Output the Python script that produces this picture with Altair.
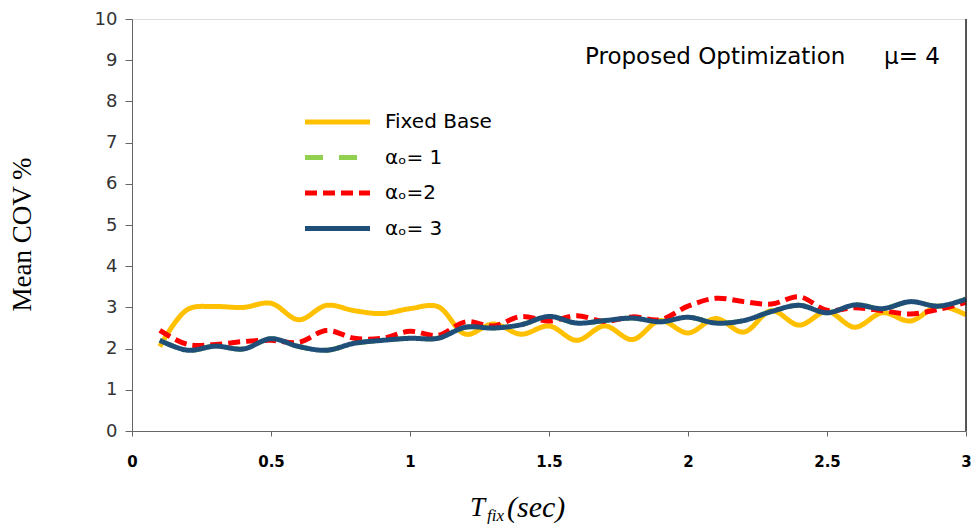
import altair as alt
import pandas as pd

t_fix = [0.1, 0.2, 0.3, 0.4, 0.5, 0.6, 0.7, 0.8, 0.9, 1.0,
         1.1, 1.2, 1.3, 1.4, 1.5, 1.6, 1.7, 1.8, 1.9, 2.0,
         2.1, 2.2, 2.3, 2.4, 2.5, 2.6, 2.7, 2.8, 2.9, 3.0]

fixed_base = [2.05, 2.95, 3.02, 3.00, 3.10, 2.70, 3.05, 2.92, 2.85, 2.97,
              3.02, 2.35, 2.60, 2.35, 2.55, 2.20, 2.55, 2.22, 2.68, 2.38,
              2.73, 2.40, 2.92, 2.57, 2.90, 2.52, 2.87, 2.67, 3.03, 2.82]

alpha1 = [2.20, 1.96, 2.06, 1.99, 2.24, 2.05, 1.96, 2.13, 2.20, 2.25,
          2.25, 2.52, 2.50, 2.58, 2.78, 2.62, 2.68, 2.74, 2.65, 2.76,
          2.62, 2.68, 2.90, 3.05, 2.87, 3.06, 2.97, 3.14, 3.03, 3.20]

alpha2 = [2.44, 2.10, 2.10, 2.17, 2.20, 2.15, 2.44, 2.25, 2.25, 2.42,
          2.32, 2.65, 2.55, 2.78, 2.67, 2.80, 2.66, 2.77, 2.70, 3.03,
          3.22, 3.14, 3.08, 3.26, 2.93, 2.99, 2.92, 2.84, 2.95, 3.12]

alpha3 = [2.20, 1.96, 2.06, 1.99, 2.24, 2.05, 1.96, 2.13, 2.20, 2.25,
          2.25, 2.52, 2.50, 2.58, 2.78, 2.62, 2.68, 2.74, 2.65, 2.76,
          2.62, 2.68, 2.90, 3.05, 2.87, 3.06, 2.97, 3.14, 3.03, 3.20]

series_names = ["Fixed Base", "\u03b1\u2092= 1", "\u03b1\u2092=2", "\u03b1\u2092= 3"]
legend_labels = [" Fixed Base", "\u03b1\u2092= 1", "\u03b1\u2092=2", "\u03b1\u2092= 3"]
series_values = [fixed_base, alpha1, alpha2, alpha3]
colors = ["#FFC000", "#92D050", "#FF0000", "#1F4E79"]
dashes = [[1, 0], [18, 16], [12, 6], [1, 0]]

x_ticks = [0, 0.5, 1, 1.5, 2, 2.5, 3]
y_ticks = [0, 1, 2, 3, 4, 5, 6, 7, 8, 9, 10]

rows = []
for k, (name, vals) in enumerate(zip(series_names, series_values)):
    for t, v in zip(t_fix, vals):
        rows.append({"series": name, "order": k, "T": t, "COV": v})
df = pd.DataFrame(rows)

leg_df = pd.DataFrame({"series": series_names, "label": legend_labels,
                       "idx": list(range(len(series_names)))})

W, H = 834, 412
SANS = "DejaVu Sans"
SERIF = "Liberation Serif"

color_scale = alt.Scale(domain=series_names, range=colors)
dash_scale = alt.Scale(domain=series_names, range=dashes)

lines = alt.Chart(df).mark_line(strokeWidth=5, interpolate="catmull-rom").encode(
    x=alt.X("T:Q",
            scale=alt.Scale(domain=[0, 3], nice=False, zero=False),
            axis=alt.Axis(values=x_ticks, format="~g", title=None, grid=False,
                          labelFont=SANS, labelFontWeight="bold", labelFontSize=15,
                          labelColor="black", tickColor="#666", domainColor="#666",
                          tickSize=5, labelPadding=18, labelFlush=False)),
    y=alt.Y("COV:Q",
            scale=alt.Scale(domain=[0, 10], nice=False),
            axis=alt.Axis(values=y_ticks, title="Mean COV %", grid=False,
                          labelFont=SANS, labelFontSize=18, labelColor="#333",
                          tickColor="#666", domainColor="#666", tickSize=7,
                          labelPadding=8, titleFont=SERIF, titleFontSize=27,
                          titleFontWeight="normal", titleColor="black",
                          titleX=-96, titleY=215)),
    color=alt.Color("series:N", scale=color_scale, legend=None),
    strokeDash=alt.StrokeDash("series:N", scale=dash_scale, legend=None),
    order=alt.Order("order:Q"),
)

leg_y = alt.Y("idx:Q", scale=alt.Scale(domain=[0, 3], range=[103, 209.5]), axis=None)

leg_lines = alt.Chart(leg_df).mark_rule(strokeWidth=5).encode(
    x=alt.value(173), x2=alt.value(238), y=leg_y,
    color=alt.Color("series:N", scale=color_scale, legend=None),
    strokeDash=alt.StrokeDash("series:N", scale=dash_scale, legend=None),
)
leg_text = alt.Chart(leg_df).mark_text(font=SANS, fontSize=20, align="left",
                                       baseline="middle", color="black").encode(
    x=alt.value(253), y=leg_y, text="label:N")

border = alt.Chart(leg_df.head(1)).mark_rule(color="#222", strokeWidth=1.5).encode(
    x=alt.value(W), y=alt.value(0), y2=alt.value(H))

ann_df = pd.DataFrame({"label": ["Proposed Optimization", "\u03bc= 4"], "px": [453, 752]})
ann = alt.Chart(ann_df).mark_text(font=SANS, fontSize=23, align="left",
                                  baseline="middle", color="black").encode(
    x=alt.X("px:Q", scale=None), y=alt.value(38), text="label:N")

xt_df = pd.DataFrame({"label": ["T", "fix", "(sec)"], "px": [338, 355, 375],
                      "py": [489, 497, 489], "fs": [27, 17, 30]})
xt = alt.Chart(xt_df).mark_text(font=SERIF, fontStyle="italic", align="left",
                                baseline="middle", color="black").encode(
    x=alt.X("px:Q", scale=None), y=alt.Y("py:Q", scale=None), text="label:N",
    size=alt.Size("fs:Q", scale=None, legend=None))

chart = alt.layer(lines, leg_lines, leg_text, border, ann, xt).resolve_scale(
    y="independent"
).properties(
    width=W, height=H,
    autosize=alt.AutoSizeParams(type="none"),
    padding={"left": 124, "top": 11, "right": 5, "bottom": 93},
).configure_view(stroke=None).configure(background="white")

chart.save("out.html", embed_options={"renderer": "svg", "actions": False})
